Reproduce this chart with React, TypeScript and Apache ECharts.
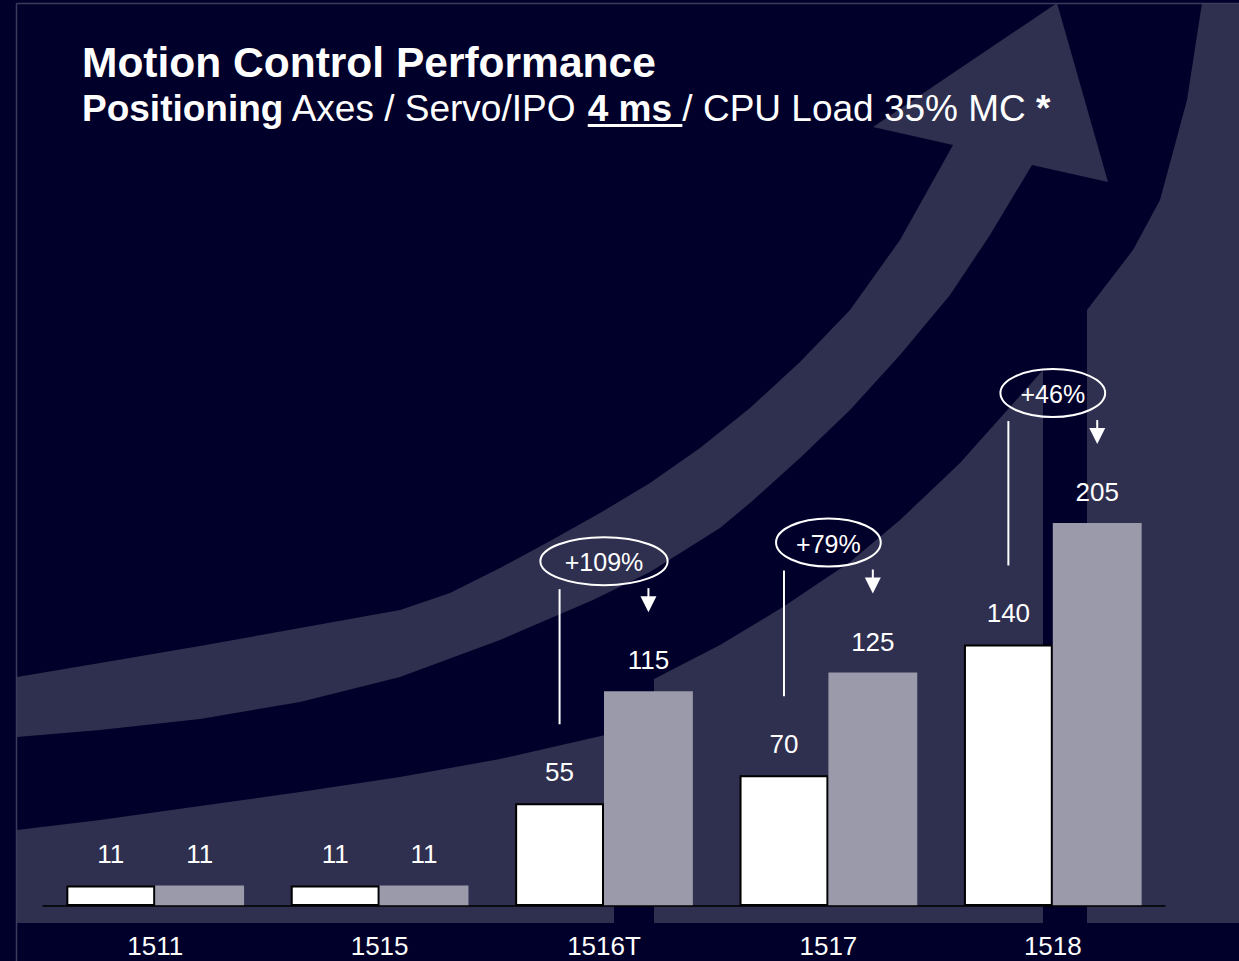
import React, { useEffect, useRef } from "react";
import * as echarts from "echarts";

// ---- data ----
const categories = ["1511", "1515", "1516T", "1517", "1518"];
const previousValues = [11, 11, 55, 70, 140];
const newValues = [11, 11, 115, 125, 205];
const increaseLabels = ["", "", "+109%", "+79%", "+46%"];
const yMax = 250;

const FONT = '"Liberation Sans", Arial, sans-serif';
const BG = "#00002a";
const LIGHT = "#2f2f4f";
const FRAME = "#3b3b5c";
const GRAY = "#9b9aab";

// decorative background arrow (pixel geometry of the slide artwork)
const bandA = [
  [17, 677], [100, 663], [200, 646], [300, 628], [400, 610], [450, 593], [500, 568], [550, 541],
  [600, 513], [650, 483], [700, 448], [750, 408], [800, 362], [850, 310], [900, 240], [953, 145],
  [873, 127], [1057, 3], [1108, 182], [1032, 165],
  [990, 235], [950, 295], [900, 355], [850, 410], [800, 458], [750, 503], [720, 528], [650, 572],
  [593, 600], [500, 640], [400, 677], [300, 702], [200, 719], [100, 730], [17, 737],
];
const regionLeft = [[17, 830], [100, 820], [200, 806], [300, 792], [400, 777], [500, 759], [614, 733], [614, 923], [17, 923]];
const regionMid = [[654, 679], [720, 645], [783, 607], [850, 562], [900, 520], [960, 463], [1043, 370], [1043, 923], [654, 923]];
const regionRight = [[1087, 310], [1100, 293], [1133, 250], [1160, 200], [1187, 100], [1202, 3], [1239, 3], [1239, 923], [1087, 923]];

function measure(text: string, font: string) {
  const c = document.createElement("canvas").getContext("2d");
  if (!c) return text.length * 14;
  c.font = font;
  return c.measureText(text).width;
}

export default function App() {
  const ref = useRef<HTMLDivElement>(null);
  useEffect(() => {
    document.body.style.margin = "0";
    if (!ref.current) return;
    const chart = echarts.init(ref.current, undefined, { renderer: "svg" });
    const valueLabel = {
      show: true,
      position: "top" as const,
      distance: 18,
      color: "#fff",
      fontSize: 26,
      fontFamily: FONT,
    };
    chart.setOption({
      animation: false,
      backgroundColor: BG,
      grid: { left: 43, right: 74, top: 439, bottom: 55 },
      xAxis: {
        type: "category",
        data: categories,
        axisLine: { show: true, lineStyle: { color: "#000", width: 1.5 } },
        axisTick: { show: false },
        axisLabel: { color: "#fff", fontSize: 26, margin: 27, fontFamily: FONT },
        z: 10,
      },
      yAxis: { type: "value", min: 0, max: yMax, show: false, splitLine: { show: false } },
      series: [
        {
          type: "bar",
          data: previousValues,
          barWidth: "39.6%",
          barGap: "0%",
          itemStyle: { color: "#fff", borderColor: "#000", borderWidth: 2 },
          label: valueLabel,
          z: 5,
        },
        {
          type: "bar",
          data: newValues,
          barWidth: "39.6%",
          barGap: "0%",
          itemStyle: { color: GRAY },
          label: valueLabel,
          z: 5,
        },
      ],
    });

    const xPx = (i: number) => chart.convertToPixel({ xAxisIndex: 0 }, categories[i]) as number;
    const yPx = (v: number) => chart.convertToPixel({ yAxisIndex: 0 }, v) as number;
    const bandW = xPx(1) - xPx(0);
    const half = (bandW * 0.396) / 2;

    const bg: any[] = [
      { type: "polygon", z: -10, silent: true, shape: { points: bandA }, style: { fill: LIGHT } },
      { type: "polygon", z: -10, silent: true, shape: { points: regionLeft }, style: { fill: LIGHT } },
      { type: "polygon", z: -10, silent: true, shape: { points: regionMid }, style: { fill: LIGHT } },
      { type: "polygon", z: -10, silent: true, shape: { points: regionRight }, style: { fill: LIGHT } },
      { type: "line", z: -9, silent: true, shape: { x1: 16.5, y1: 3.5, x2: 1239, y2: 3.5 }, style: { stroke: FRAME, lineWidth: 1.5 } },
      { type: "line", z: -9, silent: true, shape: { x1: 16.5, y1: 3.5, x2: 16.5, y2: 961 }, style: { stroke: FRAME, lineWidth: 1.5 } },
    ];

    const titleFont = `bold 42.5px ${FONT}`;
    const subSize = 37;
    const subX = 82;
    const pre = measure("Positioning", `bold ${subSize}px ${FONT}`) + measure(" Axes / Servo/IPO ", `${subSize}px ${FONT}`);
    const ulW = measure("4 ms", `bold ${subSize}px ${FONT}`) + measure(" ", `${subSize}px ${FONT}`);

    const texts: any[] = [
      {
        type: "text",
        z: 100,
        style: {
          text: "Motion Control Performance",
          x: 82,
          y: 62,
          font: titleFont,
          fill: "#fff",
          textAlign: "left",
          textVerticalAlign: "middle",
          align: "left",
          verticalAlign: "middle",
        },
      },
      {
        type: "text",
        z: 100,
        style: {
          text: "{b|Positioning}{r| Axes / Servo/IPO }{b|4 ms}{r| / CPU Load 35% MC }{b|*}",
          x: subX,
          y: 108,
          fill: "#fff",
          fontSize: subSize,
          fontFamily: FONT,
          textAlign: "left",
          textVerticalAlign: "middle",
          align: "left",
          verticalAlign: "middle",
          rich: {
            b: { fontWeight: "bold", fontSize: subSize, fontFamily: FONT, fill: "#fff", color: "#fff" },
            r: { fontWeight: "normal", fontSize: subSize, fontFamily: FONT, fill: "#fff", color: "#fff" },
          },
        },
      },
      {
        type: "rect",
        z: 100,
        shape: { x: subX + pre, y: 124, width: ulW, height: 3 },
        style: { fill: "#fff" },
      },
    ];

    const ann: any[] = [];
    const pctFont = `25px ${FONT}`;
    increaseLabels.forEach((lab, i) => {
      if (!lab) return;
      const c = xPx(i);
      const wx = c - half;
      const gx = c + half;
      const whiteTop = yPx(previousValues[i]);
      const grayTop = yPx(newValues[i]);
      const cy = grayTop - 130;
      const rx = measure(lab, pctFont) * 0.81;
      ann.push(
        { type: "ellipse", z: 100, shape: { cx: c, cy, rx, ry: 24 }, style: { fill: "none", stroke: "#fff", lineWidth: 2 } },
        {
          type: "text",
          z: 101,
          style: {
            text: lab, x: c, y: cy + 1, font: pctFont, fill: "#fff",
            textAlign: "center", textVerticalAlign: "middle", align: "center", verticalAlign: "middle",
          },
        },
        { type: "line", z: 100, shape: { x1: wx, y1: cy + 28, x2: wx, y2: whiteTop - 79 }, style: { stroke: "#fff", lineWidth: 2 } },
        { type: "line", z: 100, shape: { x1: gx, y1: cy + 27, x2: gx, y2: cy + 37 }, style: { stroke: "#fff", lineWidth: 2 } },
        {
          type: "polygon",
          z: 100,
          shape: { points: [[gx - 8, cy + 35], [gx + 8, cy + 35], [gx, cy + 51]] },
          style: { fill: "#fff" },
        }
      );
    });

    chart.setOption({ graphic: { elements: [...bg, ...texts, ...ann] } });

    return () => chart.dispose();
  }, []);
  return <div ref={ref} style={{ width: 1239, height: 961 }} />;
}
